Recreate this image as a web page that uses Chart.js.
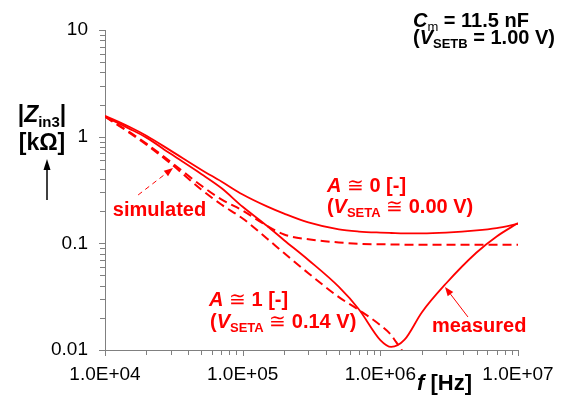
<!DOCTYPE html>
<html><head><meta charset="utf-8">
<script src="https://cdn.jsdelivr.net/npm/chart.js@4/dist/chart.umd.min.js"></script>
<style>html,body{margin:0;padding:0;background:#fff}#wrap{width:576px;height:403px;position:relative}</style>
</head><body><div id="wrap"><canvas id="c" width="576" height="403"></canvas></div>
<script>
// ---- data (frequency in Hz, |Zin3| in kOhm) ----
const freqs = [1e4,1.5e4,2e4,3e4,5e4,7e4,1e5,1.5e5,2e5,3e5,5e5,7e5,1e6,1.2e6,1.5e6,2e6,3e6,5e6,7e6,1e7];
const measuredA0 = [1.57,1.24,1.02,0.74,0.49,0.38,0.287,0.222,0.19,0.157,0.135,0.129,0.126,0.125,0.124,0.124,0.126,0.132,0.139,0.152];
const measuredA1 = [1.54,1.19,0.98,0.69,0.447,0.33,0.22,0.146,0.107,0.0698,0.039,0.024,0.0124,0.0107,0.0125,0.0225,0.042,0.082,0.116,0.155];
const simFreqsA1 = [1e4,1.5e4,2e4,3e4,5e4,7e4,1e5,1.5e5,2e5,3e5,5e5,7e5,1e6,1.2e6,1.3e6,1.4e6,1.5e6];
const simulatedA1 = [1.54,1.09,0.84,0.56,0.32,0.231,0.171,0.111,0.081,0.0525,0.0313,0.0237,0.0171,0.0138,0.0119,0.0104,0.009];
const simFreqsA0 = [1e4,1.5e4,2e4,3e4,5e4,7e4,1e5,1.5e5,2e5,3e5,5e5,7e5,1e6,2e6,5e6,1e7];
const simulatedA0 = [1.54,1.11,0.86,0.58,0.348,0.258,0.203,0.146,0.121,0.109,0.102,0.099,0.098,0.097,0.097,0.097];
const xTicks = [1e4,1e5,1e6,1e7];
const yTicks = [0.01,0.1,1,10];

const F = '"Liberation Sans", Arial, sans-serif';
const B = s => `bold ${s}px ${F}`, BI = s => `italic bold ${s}px ${F}`, R = s => `${s}px ${F}`;
const RED = '#ff0000';
const pts = (xs, ys) => xs.map((x, i) => ({x, y: ys[i]}));
const fmtE = v => { const e = Math.round(Math.log10(v)); return '1.0E+' + (e < 10 ? '0' + e : e); };

function drawRich(ctx, x, y, parts, align) {
  let w = 0;
  parts.forEach(p => { ctx.font = p[1]; w += ctx.measureText(p[0]).width; });
  let cx = align === 'center' ? x - w / 2 : x;
  parts.forEach(p => { ctx.font = p[1]; ctx.fillText(p[0], cx, y + (p[2] || 0)); cx += ctx.measureText(p[0]).width; });
}
function arrow(ctx, x1, y1, x2, y2, color, dash, lw, hl, hw) {
  ctx.save();
  ctx.strokeStyle = color; ctx.fillStyle = color; ctx.lineWidth = lw;
  const a = Math.atan2(y2 - y1, x2 - x1);
  const bx = x2 - hl * Math.cos(a), by = y2 - hl * Math.sin(a);
  ctx.setLineDash(dash); ctx.beginPath(); ctx.moveTo(x1, y1); ctx.lineTo(bx, by); ctx.stroke();
  ctx.setLineDash([]); ctx.beginPath(); ctx.moveTo(x2, y2);
  ctx.lineTo(bx + hw * Math.sin(a), by - hw * Math.cos(a));
  ctx.lineTo(bx - hw * Math.sin(a), by + hw * Math.cos(a));
  ctx.closePath(); ctx.fill();
  ctx.restore();
}

const deco = {
  id: 'deco',
  afterDraw(chart) {
    const ctx = chart.ctx, xs = chart.scales.x, ys = chart.scales.y, ca = chart.chartArea;
    ctx.save();
    // axis ticks (log minor + major)
    ctx.strokeStyle = '#808080'; ctx.lineWidth = 1;
    ctx.beginPath();
    for (let d = 0.01; d < 20; d *= 10) {
      for (let k = 1; k <= 9; k++) {
        const v = d * k; if (v > 10.0001) break;
        const py = Math.round(ys.getPixelForValue(v)) + 0.5;
        ctx.moveTo(ca.left - (k === 1 ? 6 : 5), py); ctx.lineTo(ca.left, py);
      }
    }
    for (let d = 1e4; d < 2e7; d *= 10) {
      for (let k = 1; k <= 9; k++) {
        const v = d * k; if (v > 1.0001e7) break;
        const px = Math.round(xs.getPixelForValue(v)) + 0.5;
        ctx.moveTo(px, ca.bottom); ctx.lineTo(px, ca.bottom + (k === 1 ? 6 : 5));
      }
    }
    ctx.stroke();

    ctx.textBaseline = 'alphabetic'; ctx.textAlign = 'left';
    // y-axis title
    ctx.fillStyle = '#000';
    drawRich(ctx, 42, 122, [['|', B(23)], ['Z', BI(23)], ['in3', B(15), 5], ['|', B(23)]], 'center');
    drawRich(ctx, 42, 150, [['[k\u03A9]', B(23)]], 'center');
    arrow(ctx, 47, 200, 47, 159, '#000', [], 1.5, 11, 3.5);
    // x-axis title
    drawRich(ctx, 417, 390, [['f', BI(22)], [' [Hz]', B(22)]]);
    // top-right note
    drawRich(ctx, 413, 27, [['C', BI(20)], ['m', R(13), 4], [' = 11.5 nF', B(20)]]);
    drawRich(ctx, 413, 44, [['(', B(20)], ['V', BI(20)], ['SETB', B(13), 4], [' = 1.00 V)', B(20)]]);

    // annotations (anchored in data coordinates)
    const P = (f, z) => [xs.getPixelForValue(f), ys.getPixelForValue(z)];
    ctx.fillStyle = RED;
    let p;
    p = P(4.09e5, 0.303); drawRich(ctx, p[0], p[1], [['A', BI(20)], [' \u2245 ', R(20)], ['0 [-]', B(20)]]);
    p = P(4.09e5, 0.192); drawRich(ctx, p[0], p[1], [['(', B(20)], ['V', BI(20)], ['SETA', B(13), 4], [' \u2245 ', R(20)], ['0.00 V)', B(20)]]);
    p = P(5.69e4, 0.0259); drawRich(ctx, p[0], p[1], [['A', BI(20)], [' \u2245 ', R(20)], ['1 [-]', B(20)]]);
    p = P(5.79e4, 0.0161); drawRich(ctx, p[0], p[1], [['(', B(20)], ['V', BI(20)], ['SETA', B(13), 4], [' \u2245 ', R(20)], ['0.14 V)', B(20)]]);
    p = P(1.14e4, 0.18); drawRich(ctx, p[0], p[1], [['simulated', B(20)]]);
    p = P(2.37e6, 0.0148); drawRich(ctx, p[0], p[1], [['measured', B(20)]]);
    let a = P(1.74e4, 0.284), b = P(3.12e4, 0.508);
    arrow(ctx, a[0], a[1], b[0], b[1], RED, [5, 4], 1, 9, 3.5);
    a = P(4.33e6, 0.0204); b = P(2.95e6, 0.039);
    arrow(ctx, a[0], a[1], b[0], b[1], RED, [], 1, 9, 3.5);
    ctx.restore();
  }
};

const line = (data, dashed) => ({
  data, borderColor: RED, backgroundColor: RED, borderWidth: dashed ? 2 : 1.8,
  borderDash: dashed ? [9, 5] : [], pointRadius: 0, fill: false,
  cubicInterpolationMode: 'monotone', clip: 0
});

new Chart(document.getElementById('c'), {
  type: 'line',
  data: { datasets: [
    line(pts(freqs, measuredA0), false),
    line(pts(freqs, measuredA1), false),
    line(pts(simFreqsA0, simulatedA0), true),
    line(pts(simFreqsA1, simulatedA1), true)
  ]},
  options: {
    animation: false, responsive: false, devicePixelRatio: 1,
    layout: { padding: { top: 30, right: 58, left: 0, bottom: 0 } },
    plugins: { legend: { display: false }, tooltip: { enabled: false } },
    scales: {
      x: {
        type: 'logarithmic', min: 1e4, max: 1e7,
        afterBuildTicks: s => { s.ticks = xTicks.map(v => ({ value: v })); },
        afterFit: s => { s.height = 53; },
        grid: { display: false, drawTicks: false },
        border: { display: true, color: '#808080', width: 1 },
        ticks: { callback: v => fmtE(v), font: { size: 19, family: F }, color: '#000', padding: 13, maxRotation: 0, autoSkip: false }
      },
      y: {
        type: 'logarithmic', min: 0.01, max: 10,
        afterBuildTicks: s => { s.ticks = yTicks.map(v => ({ value: v })); },
        afterFit: s => { s.width = 105; },
        grid: { display: false, drawTicks: false },
        border: { display: true, color: '#808080', width: 1 },
        ticks: { callback: v => String(v), font: { size: 19, family: F }, color: '#000', padding: 17, autoSkip: false }
      }
    }
  },
  plugins: [deco]
});
</script>
</body></html>
